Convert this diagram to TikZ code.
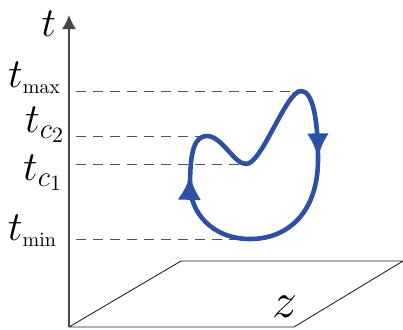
\documentclass[tikz,border=0pt]{standalone}
\usepackage{amsmath,amssymb}
\usetikzlibrary{positioning,calc}
\usetikzlibrary{arrows.meta,decorations.markings}
\definecolor{LoopBlue}{RGB}{45,80,165}
\definecolor{AxisGray}{RGB}{70,70,70}
\definecolor{DashGray}{RGB}{85,85,85}
\tikzset{
  axisline/.style={draw=AxisGray,line width=0.75pt,-{Latex[length=7pt,width=7pt]}},
  guide/.style={draw=DashGray,line width=0.5pt,dash pattern=on 5pt off 3.5pt,dash phase=5pt},
  plane/.style={draw=black!85,line width=0.45pt,line join=round},
  loopline/.style={draw=LoopBlue,line width=2.3pt,line join=round,
    postaction={decorate,decoration={markings,
      mark=at position 0.15 with {\arrow[LoopBlue]{Latex[length=12pt,width=11pt]}},
      mark=at position 0.605 with {\arrow[LoopBlue]{Latex[length=12pt,width=12pt]}}}}},
  lbl/.style={inner sep=0pt,outer sep=0pt},
}

\begin{document}
\begin{tikzpicture}[x=0.5pt,y=-0.5pt]
\useasboundingbox (0,0) rectangle (403,329);
\coordinate (o) at (69,327);
\coordinate (tip) at (69,15);
\coordinate (p1) at (294,327);
\coordinate (p2) at (403,261);
\coordinate (p3) at (181,261);
\coordinate (peak) at (301,91);
\coordinate (r) at (318,160);
\coordinate (bot) at (250,239);
\coordinate (l) at (190,185);
\coordinate (lp) at (207,136);
\coordinate (val) at (246,164);
\draw[plane] (o) -- (p1) -- (p2) -- (p3) -- cycle;
\draw[axisline] (o) -- (tip);
\draw[guide] (o |- peak) -- (peak);
\draw[guide] (o |- lp) -- (lp);
\draw[guide] (o |- val) -- (val);
\draw[guide] (o |- bot) -- (bot);
\draw[loopline] (peak) .. controls (313,91) and (318,120) .. (r)
  .. controls (318,210) and (290,239) .. (bot)
  .. controls (212,239) and (190,212) .. (l)
  .. controls (190,150) and (195,136) .. (lp)
  .. controls (222,136) and (234,164) .. (val)
  .. controls (262,164) and (286,91) .. (peak) -- cycle;
\node[lbl,anchor=base east,font=\fontsize{20}{20}\selectfont] (taxis) at (56,36) {$t$};
\node[lbl,anchor=base east,font=\fontsize{20}{20}\selectfont] (tmax) at (61,87) {$t_{\scriptscriptstyle\max}$};
\node[lbl,anchor=base east,font=\fontsize{22}{22}\selectfont] (tc2) at (65,132) {$t_{c_2}$};
\node[lbl,anchor=base east,font=\fontsize{22}{22}\selectfont] (tc1) at (63,180) {$t_{c_1}$};
\node[lbl,anchor=base east,font=\fontsize{20}{20}\selectfont] (tmin) at (57,240) {$t_{\scriptscriptstyle\min}$};
\node[lbl,anchor=base west,font=\fontsize{25}{25}\selectfont] (zlbl) at (272,317) {$z$};
\end{tikzpicture}
\end{document}
